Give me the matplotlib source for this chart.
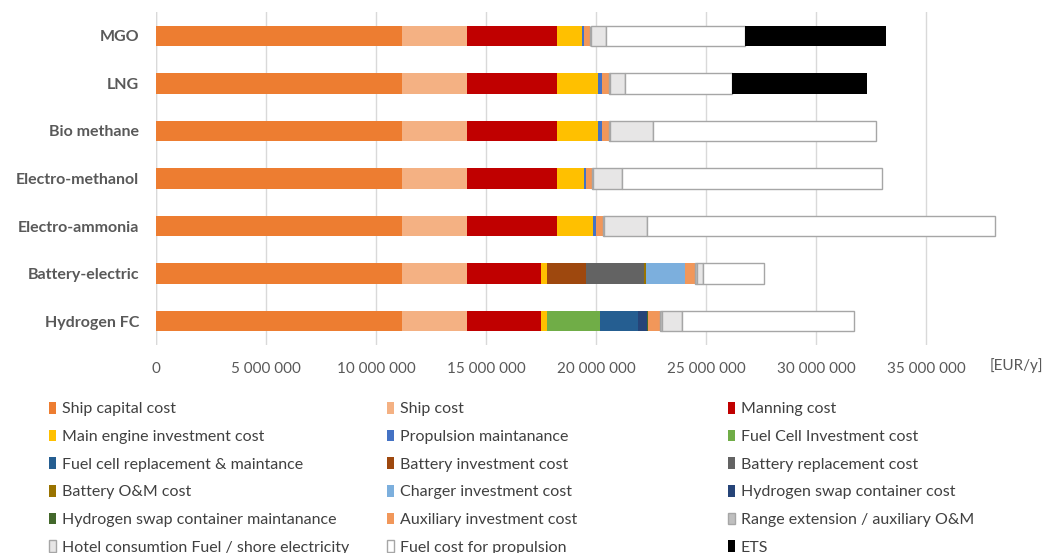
import numpy as np
import matplotlib
matplotlib.use('Agg')
import matplotlib.pyplot as plt
from matplotlib.ticker import FuncFormatter

plt.rcParams['font.family'] = ['Lato', 'DejaVu Sans']

# ---- data (million EUR per year) ----
fuels = ['MGO', 'LNG', 'Bio methane', 'Electro-methanol', 'Electro-ammonia',
         'Battery-electric', 'Hydrogen FC']

ship_capital   = [11.20, 11.20, 11.20, 11.20, 11.20, 11.20, 11.20]
ship_cost      = [2.95, 2.95, 2.95, 2.95, 2.95, 2.95, 2.95]
manning        = [4.06, 4.06, 4.06, 4.06, 4.06, 3.33, 3.33]
main_engine    = [1.14, 1.90, 1.90, 1.24, 1.64, 0.27, 0.27]
propulsion_om  = [0.12, 0.17, 0.17, 0.10, 0.15, 0.00, 0.00]
fc_invest      = [0.00, 0.00, 0.00, 0.00, 0.00, 0.00, 2.42]
fc_replace     = [0.00, 0.00, 0.00, 0.00, 0.00, 0.00, 1.72]
batt_invest    = [0.00, 0.00, 0.00, 0.00, 0.00, 1.80, 0.00]
batt_replace   = [0.00, 0.00, 0.00, 0.00, 0.00, 2.63, 0.00]
batt_om        = [0.00, 0.00, 0.00, 0.00, 0.00, 0.09, 0.00]
charger        = [0.00, 0.00, 0.00, 0.00, 0.00, 1.77, 0.00]
h2_container   = [0.00, 0.00, 0.00, 0.00, 0.00, 0.00, 0.42]
h2_cont_om     = [0.00, 0.00, 0.00, 0.00, 0.00, 0.00, 0.06]
aux_invest     = [0.25, 0.33, 0.33, 0.29, 0.30, 0.45, 0.55]
range_ext_om   = [0.03, 0.03, 0.03, 0.03, 0.08, 0.12, 0.08]
hotel          = [0.72, 0.68, 1.96, 1.33, 1.92, 0.26, 0.93]
fuel_prop      = [6.32, 4.86, 10.14, 11.82, 15.83, 2.75, 7.79]
ets            = [6.41, 6.12, 0.00, 0.00, 0.00, 0.00, 0.00]

labels = ['Ship capital cost', 'Ship cost', 'Manning cost',
          'Main engine investment cost', 'Propulsion maintanance', 'Fuel Cell Investment cost',
          'Fuel cell replacement & maintance', 'Battery investment cost', 'Battery replacement cost',
          'Battery O&M cost', 'Charger investment cost', 'Hydrogen swap container cost',
          'Hydrogen swap container maintanance', 'Auxiliary investment cost', 'Range extension / auxiliary O&M',
          'Hotel consumtion Fuel / shore electricity', 'Fuel cost for propulsion', 'ETS']

series = [ship_capital, ship_cost, manning, main_engine, propulsion_om, fc_invest,
          fc_replace, batt_invest, batt_replace, batt_om, charger, h2_container,
          h2_cont_om, aux_invest, range_ext_om, hotel, fuel_prop, ets]

colors = ['#ED7D31', '#F4B183', '#C00000', '#FFC000', '#4472C4', '#70AD47',
          '#255E91', '#9E480E', '#636363', '#997300', '#7CAFDD', '#264478',
          '#43682B', '#F1975A', '#BFBFBF', '#E7E6E6', '#FFFFFF', '#000000']
edged = {'Range extension / auxiliary O&M', 'Hotel consumtion Fuel / shore electricity',
         'Fuel cost for propulsion'}

fig = plt.figure(figsize=(10.45, 5.53), dpi=100)
ax = fig.add_axes([156 / 1045, 1 - 345 / 553, 880 / 1045, 333 / 553])

y = np.arange(len(fuels))
left = np.zeros(len(fuels))
handles = []
for lab, vals, col in zip(labels, series, colors):
    vals = np.array(vals) * 1e6
    if lab in edged:
        h = ax.barh(y, vals, left=left, height=0.43, color=col,
                    edgecolor='#A6A6A6', linewidth=1.0, zorder=3, label=lab)
    else:
        h = ax.barh(y, vals, left=left, height=0.43, color=col,
                    edgecolor='none', linewidth=0, zorder=3, label=lab)
    handles.append(h)
    left += vals

ax.set_ylim(len(fuels) - 0.5, -0.5)
ax.set_xlim(0, 40e6)
ax.set_xticks(np.arange(0, 40e6, 5e6))
ax.xaxis.set_major_formatter(FuncFormatter(lambda v, p: f'{int(v):,}'.replace(',', ' ')))
ax.grid(axis='x', color='#D9D9D9', linewidth=1.0, zorder=0)
ax.axvline(0, color='#D9D9D9', linewidth=1.0, zorder=1)
for s in ax.spines.values():
    s.set_visible(False)
ax.tick_params(axis='both', length=0)
ax.tick_params(axis='x', labelsize=11, labelcolor='#595959', pad=12)
ax.set_yticks(y)
ax.set_yticklabels(fuels, fontsize=11.5, fontweight='bold', color='#595959')
ax.tick_params(axis='y', pad=12)

# unit label sits in line with the tick labels
ax.text(39.1e6, -0.063, '[EUR/y]', transform=ax.get_xaxis_transform(),
        fontsize=11, color='#595959', ha='center', va='center')

# legend in three columns, filled row by row
col_x = [49 / 1045, 387 / 1045, 728 / 1045]
for c in range(3):
    idx = list(range(c, 18, 3))
    leg = fig.legend([handles[i] for i in idx], [labels[i] for i in idx],
                     loc='upper left', bbox_to_anchor=(col_x[c], 1 - 402 / 553),
                     frameon=False, fontsize=11.5, labelcolor='#404040',
                     handlelength=0.45, handleheight=0.75, handletextpad=0.35,
                     labelspacing=0.83, borderpad=0, borderaxespad=0)
    for p in leg.get_patches():
        if p.get_label() in edged or p.get_facecolor()[:3] == (1.0, 1.0, 1.0):
            p.set_edgecolor('#A6A6A6')

fig.savefig('out.png', dpi=100)
